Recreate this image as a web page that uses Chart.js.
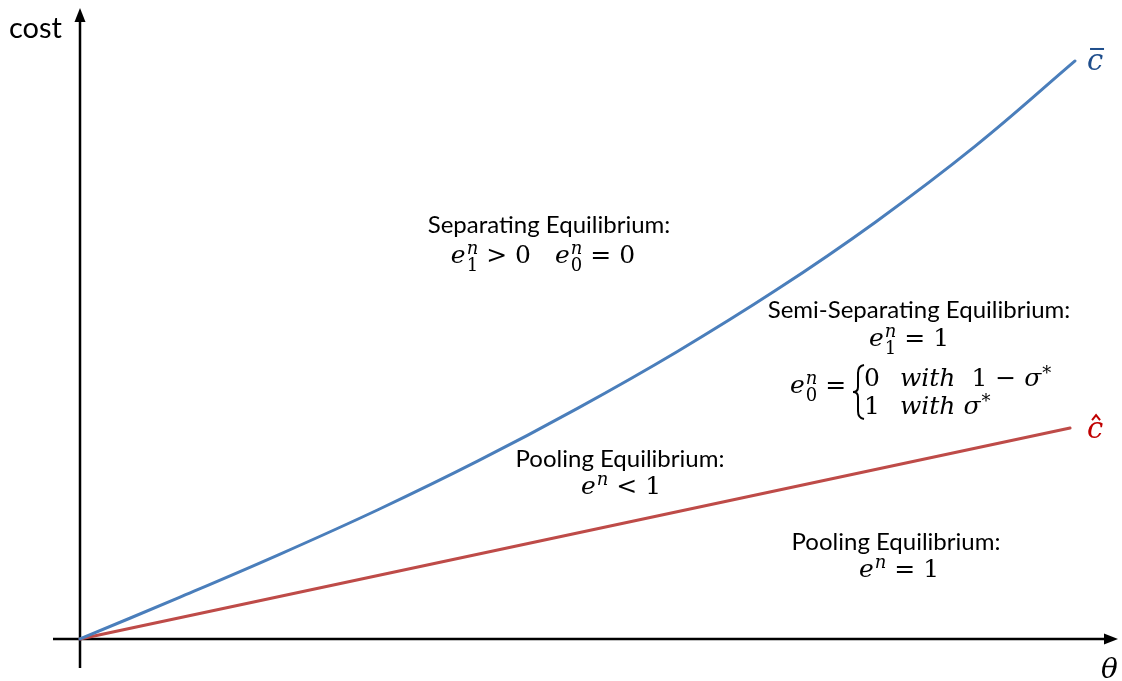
<!DOCTYPE html>
<html>
<head>
<meta charset="utf-8">
<script src="https://cdn.jsdelivr.net/npm/chart.js@4/dist/chart.umd.min.js"></script>
<style>
  html, body { margin: 0; padding: 0; background: #fff; }
  #wrap { width: 1122px; height: 681px; position: relative; }
</style>
</head>
<body>
<div id="wrap"><canvas id="myChart"></canvas></div>
<script>
// theta values and the two cost curves
const theta = [0, 0.1, 0.2, 0.3, 0.4, 0.5, 0.6, 0.7, 0.8, 0.9, 1.0];
const cBar = [0, 0.72, 1.46, 2.24, 3.08, 3.99, 4.97, 6.04, 7.22, 8.53, 10.0];
const thetaHat = [0, 0.995];
const cHat = [0, 3.65];

const BLUE = 'rgb(74, 126, 187)';
const RED = 'rgb(190, 75, 72)';
const TXT = '"Lato", "Open Sans", sans-serif';
const MF = '"DejaVu Serif"';

function mfont(style, px) {
  return (style === 'i' ? 'italic ' : '') + px + 'px ' + MF;
}

// measure / draw a run of math pieces: {t, s, sup, sub, supS} or {gap}
function runWidth(ctx, runs, px) {
  let w = 0;
  const sp = Math.round(px * 0.72);
  for (const r of runs) {
    if (r.gap) { w += r.gap; continue; }
    ctx.font = mfont(r.s, px);
    w += ctx.measureText(r.t).width;
    if (r.sup || r.sub) {
      let sw = 0;
      if (r.sup) { ctx.font = mfont(r.supS || 'i', sp); sw = Math.max(sw, ctx.measureText(r.sup).width); }
      if (r.sub) { ctx.font = mfont('r', sp); sw = Math.max(sw, ctx.measureText(r.sub).width); }
      w += sw + 1;
    }
  }
  return w;
}

function drawRuns(ctx, runs, x, y, px, align) {
  const total = runWidth(ctx, runs, px);
  let cx = align === 'center' ? x - total / 2 : x;
  const sp = Math.round(px * 0.72);
  ctx.textAlign = 'left';
  ctx.textBaseline = 'alphabetic';
  for (const r of runs) {
    if (r.gap) { cx += r.gap; continue; }
    ctx.font = mfont(r.s, px);
    ctx.fillText(r.t, cx, y);
    cx += ctx.measureText(r.t).width;
    if (r.sup || r.sub) {
      let sw = 0;
      if (r.sup) {
        ctx.font = mfont(r.supS || 'i', sp);
        ctx.fillText(r.sup, cx + 1, y - px * (r.supS ? 0.3 : 0.38));
        sw = Math.max(sw, ctx.measureText(r.sup).width);
      }
      if (r.sub) {
        ctx.font = mfont('r', sp);
        ctx.fillText(r.sub, cx + 1, y + px * 0.3);
        sw = Math.max(sw, ctx.measureText(r.sub).width);
      }
      cx += sw + 1;
    }
  }
}

const axesPlugin = {
  id: 'axes',
  beforeDatasetsDraw(chart) {
    const ctx = chart.ctx;
    const x0 = chart.scales.x.getPixelForValue(0);
    const y0 = chart.scales.y.getPixelForValue(0);
    ctx.save();
    ctx.strokeStyle = '#000';
    ctx.fillStyle = '#000';
    ctx.lineWidth = 2.5;
    ctx.beginPath();
    ctx.moveTo(53, y0);
    ctx.lineTo(1108, y0);
    ctx.moveTo(x0, 668);
    ctx.lineTo(x0, 18);
    ctx.stroke();
    // arrow heads
    ctx.beginPath();
    ctx.moveTo(1118, y0);
    ctx.lineTo(1104, y0 - 5.5);
    ctx.lineTo(1104, y0 + 5.5);
    ctx.closePath();
    ctx.fill();
    ctx.beginPath();
    ctx.moveTo(x0, 8);
    ctx.lineTo(x0 - 5.5, 22);
    ctx.lineTo(x0 + 5.5, 22);
    ctx.closePath();
    ctx.fill();
    ctx.restore();
  }
};

const textPlugin = {
  id: 'labels',
  afterDatasetsDraw(chart) {
    const ctx = chart.ctx;
    ctx.save();
    ctx.fillStyle = '#000';
    ctx.textBaseline = 'alphabetic';

    // axis titles
    ctx.font = '29px ' + TXT;
    ctx.textAlign = 'left';
    ctx.fillText('cost', 9, 38);
    ctx.font = 'italic 28px ' + MF;
    ctx.fillText('\u03B8', 1101, 678);

    // curve names at the end of each line
    const pb = chart.getDatasetMeta(0).data;
    const endB = pb[pb.length - 1];
    ctx.fillStyle = '#1f4e8c';
    ctx.font = 'italic 29px ' + MF;
    ctx.fillText('c', endB.x + 12, endB.y + 9);
    ctx.fillRect(endB.x + 15, endB.y - 13, 14, 2);
    const pr = chart.getDatasetMeta(1).data;
    const endR = pr[pr.length - 1];
    ctx.fillStyle = '#c00000';
    ctx.fillText('c', endR.x + 17, endR.y + 10);
    ctx.strokeStyle = '#c00000';
    ctx.lineWidth = 2;
    ctx.beginPath();
    ctx.moveTo(endR.x + 22, endR.y - 8);
    ctx.lineTo(endR.x + 26, endR.y - 13);
    ctx.lineTo(endR.x + 30, endR.y - 8);
    ctx.stroke();

    ctx.fillStyle = '#000';
    const M = 25;
    const TF = '24px ' + TXT;

    // Separating
    ctx.textAlign = 'center';
    ctx.font = TF;
    ctx.fillText('Separating Equilibrium:', 549, 233);
    drawRuns(ctx, [
      { t: 'e', s: 'i', sup: 'n', sub: '1' }, { t: ' > 0', s: 'r' }, { gap: 24 },
      { t: 'e', s: 'i', sup: 'n', sub: '0' }, { t: ' = 0', s: 'r' }
    ], 543, 263, M, 'center');

    // Semi-separating
    ctx.textAlign = 'center';
    ctx.font = TF;
    ctx.fillText('Semi-Separating Equilibrium:', 919, 318);
    drawRuns(ctx, [{ t: 'e', s: 'i', sup: 'n', sub: '1' }, { t: ' = 1', s: 'r' }], 909, 346, M, 'center');
    drawRuns(ctx, [{ t: 'e', s: 'i', sup: 'n', sub: '0' }, { t: ' =', s: 'r' }], 790, 393, M, 'left');
    // brace
    ctx.lineWidth = 2;
    ctx.strokeStyle = '#000';
    const bx = 857, bt = 365, bb = 419, bm = (bt + bb) / 2;
    ctx.beginPath();
    ctx.moveTo(bx + 7, bt);
    ctx.quadraticCurveTo(bx + 1, bt + 1, bx + 1, bt + 8);
    ctx.lineTo(bx + 1, bm - 5);
    ctx.quadraticCurveTo(bx + 1, bm, bx - 4, bm);
    ctx.quadraticCurveTo(bx + 1, bm, bx + 1, bm + 5);
    ctx.lineTo(bx + 1, bb - 8);
    ctx.quadraticCurveTo(bx + 1, bb - 1, bx + 7, bb);
    ctx.stroke();
    drawRuns(ctx, [
      { t: '0', s: 'r' }, { gap: 20 }, { t: 'with', s: 'i' }, { gap: 16 },
      { t: '1 \u2212 ', s: 'r' }, { t: '\u03C3', s: 'i', sup: '*', supS: 'r' }
    ], 864, 386, M, 'left');
    drawRuns(ctx, [
      { t: '1', s: 'r' }, { gap: 20 }, { t: 'with', s: 'i' }, { gap: 8 },
      { t: '\u03C3', s: 'i', sup: '*', supS: 'r' }
    ], 864, 414, M, 'left');

    // Pooling (between curves)
    ctx.textAlign = 'center';
    ctx.font = TF;
    ctx.fillText('Pooling Equilibrium:', 620, 467);
    drawRuns(ctx, [{ t: 'e', s: 'i', sup: 'n' }, { t: ' < 1', s: 'r' }], 621, 494, M, 'center');

    // Pooling (below red)
    ctx.textAlign = 'center';
    ctx.font = TF;
    ctx.fillText('Pooling Equilibrium:', 896, 550);
    drawRuns(ctx, [{ t: 'e', s: 'i', sup: 'n' }, { t: ' = 1', s: 'r' }], 899, 577, M, 'center');

    ctx.restore();
  }
};

const ctx = document.getElementById('myChart').getContext('2d');
const chart = new Chart(ctx, {
  type: 'line',
  data: {
    datasets: [
      {
        label: 'c bar',
        data: theta.map((t, i) => ({ x: t, y: cBar[i] })),
        borderColor: BLUE,
        borderWidth: 3,
        pointRadius: 0,
        tension: 0.4,
        borderCapStyle: 'round',
        fill: false
      },
      {
        label: 'c hat',
        data: thetaHat.map((t, i) => ({ x: t, y: cHat[i] })),
        borderColor: RED,
        borderWidth: 3,
        pointRadius: 0,
        borderCapStyle: 'round',
        fill: false
      }
    ]
  },
  options: {
    responsive: true,
    maintainAspectRatio: false,
    animation: false,
    layout: { padding: 0 },
    plugins: { legend: { display: false }, tooltip: { enabled: false } },
    scales: {
      x: { type: 'linear', min: -0.0804, max: 1.0472, display: false },
      y: { type: 'linear', min: -0.727, max: 11.055, display: false }
    }
  },
  plugins: [axesPlugin, textPlugin]
});
</script>
</body>
</html>
